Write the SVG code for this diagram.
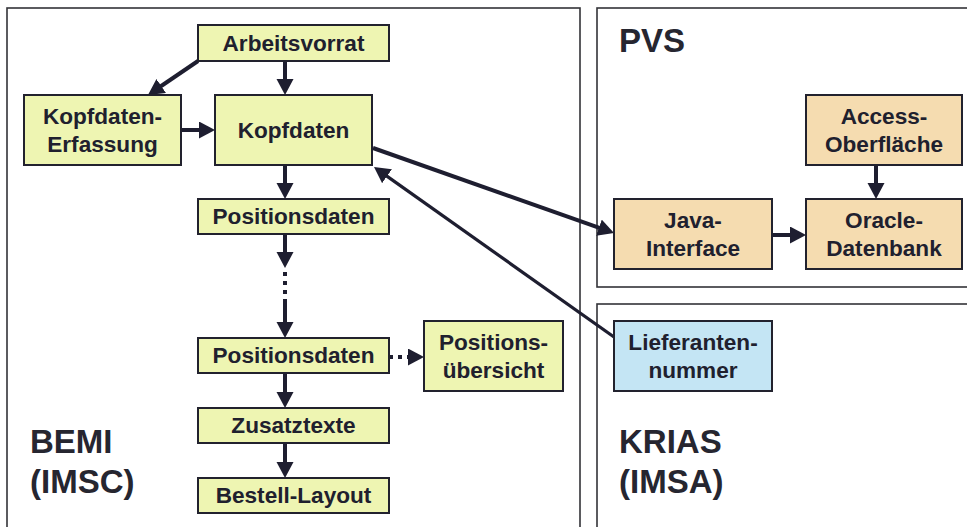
<svg xmlns="http://www.w3.org/2000/svg" width="967" height="527" viewBox="0 0 967 527">
<style>
.frame{fill:#ffffff;stroke:#333338;stroke-width:1.6}
.box{stroke:#22222e;stroke-width:2}
.y{fill:#eef5b2}
.o{fill:#f5dcb0}
.b{fill:#c4e5f4}
.t{font-family:"Liberation Sans",Arial,sans-serif;font-weight:bold;font-size:22.6px;fill:#20202e;text-anchor:middle}
.big{font-family:"Liberation Sans",Arial,sans-serif;font-weight:bold;font-size:33px;fill:#262630}
.c{fill:none;stroke:#1e1e30;stroke-width:4}
.thin{stroke-width:3.2}
.dot{stroke-dasharray:4 5}
</style>
<defs>
<marker id="ah" markerUnits="userSpaceOnUse" markerWidth="18" markerHeight="18" refX="8" refY="8.5" orient="auto" viewBox="0 0 18 18">
<path d="M0,0 L16,8.5 L0,17 z" fill="#1e1e30"/>
</marker>
</defs>
<rect width="967" height="527" fill="#ffffff"/>
<g id="frames">
<rect class="frame" x="7" y="8" width="573" height="530"/>
<rect class="frame" x="597" y="8" width="380" height="279"/>
<rect class="frame" x="597" y="304" width="380" height="240"/>
<text class="big" x="30" y="453">BEMI</text>
<text class="big" x="30" y="493">(IMSC)</text>
<text class="big" x="619" y="52">PVS</text>
<text class="big" x="619" y="453">KRIAS</text>
<text class="big" x="619" y="493">(IMSA)</text>
</g>
<g id="connectors">
<path class="c" d="M285,61 L285,87" marker-end="url(#ah)"/>
<path class="c" d="M198,61 L154.6,90.5" marker-end="url(#ah)"/>
<path class="c" d="M181,130 L207,130" marker-end="url(#ah)"/>
<path class="c" d="M285,165 L285,191" marker-end="url(#ah)"/>
<path class="c" d="M285,234 L285,260" marker-end="url(#ah)"/>
<path class="c dot" d="M285,272 L285,300"/>
<path class="c" d="M285,300 L285,330" marker-end="url(#ah)"/>
<path class="c dot" d="M389,357 L416,357" marker-end="url(#ah)"/>
<path class="c" d="M285,373 L285,400" marker-end="url(#ah)"/>
<path class="c" d="M285,443 L285,470" marker-end="url(#ah)"/>
<path class="c" d="M876,165 L876,191" marker-end="url(#ah)"/>
<path class="c" d="M772,235 L798,235" marker-end="url(#ah)"/>
<path class="c" d="M373,148 L606.5,230.3" marker-end="url(#ah)"/>
<path class="c thin" d="M614,337 L380.5,171.6" marker-end="url(#ah)"/>
</g>
<g id="arbeitsvorrat">
<rect class="box y" x="198" y="25" width="191" height="36"/>
<text class="t" x="293.5" y="51">Arbeitsvorrat</text>
</g>
<g id="kopfdaten-erfassung">
<rect class="box y" x="24" y="95" width="157" height="70"/>
<text class="t" x="102.5" y="124">Kopfdaten-</text>
<text class="t" x="102.5" y="152">Erfassung</text>
</g>
<g id="kopfdaten">
<rect class="box y" x="215" y="95" width="157" height="70"/>
<text class="t" x="293.5" y="138">Kopfdaten</text>
</g>
<g id="positionsdaten1">
<rect class="box y" x="198" y="199" width="191" height="35"/>
<text class="t" x="293.5" y="224">Positionsdaten</text>
</g>
<g id="positionsdaten2">
<rect class="box y" x="198" y="338" width="191" height="35"/>
<text class="t" x="293.5" y="363">Positionsdaten</text>
</g>
<g id="positionsuebersicht">
<rect class="box y" x="424" y="321" width="139" height="70"/>
<text class="t" x="493.5" y="350">Positions-</text>
<text class="t" x="493.5" y="378">übersicht</text>
</g>
<g id="zusatztexte">
<rect class="box y" x="198" y="408" width="191" height="35"/>
<text class="t" x="293.5" y="433">Zusatztexte</text>
</g>
<g id="bestell-layout">
<rect class="box y" x="198" y="478" width="191" height="35"/>
<text class="t" x="293.5" y="503">Bestell-Layout</text>
</g>
<g id="access-oberflaeche">
<rect class="box o" x="806" y="95" width="156" height="70"/>
<text class="t" x="884" y="124">Access-</text>
<text class="t" x="884" y="152">Oberfläche</text>
</g>
<g id="java-interface">
<rect class="box o" x="614" y="199" width="158" height="70"/>
<text class="t" x="693" y="228">Java-</text>
<text class="t" x="693" y="256">Interface</text>
</g>
<g id="oracle-datenbank">
<rect class="box o" x="806" y="199" width="156" height="70"/>
<text class="t" x="884" y="228">Oracle-</text>
<text class="t" x="884" y="256">Datenbank</text>
</g>
<g id="lieferantennummer">
<rect class="box b" x="614" y="321" width="158" height="70"/>
<text class="t" x="693" y="350">Lieferanten-</text>
<text class="t" x="693" y="378">nummer</text>
</g>
</svg>
